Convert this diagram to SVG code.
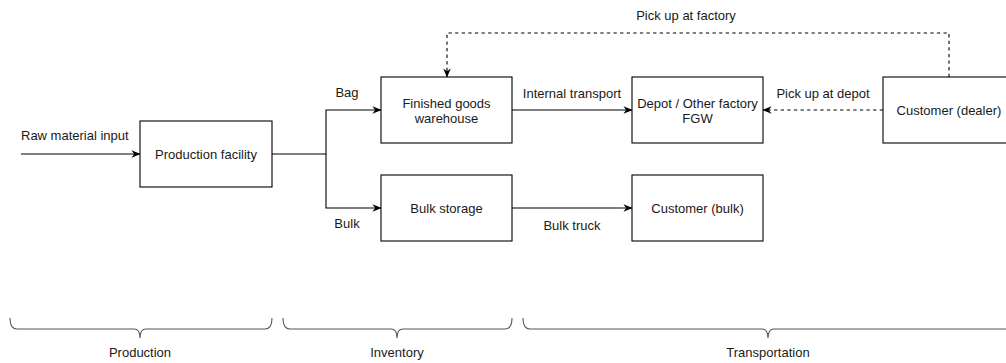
<svg xmlns="http://www.w3.org/2000/svg" width="1006" height="363" viewBox="0 0 1006 363">
<style>
.box{fill:#fff;stroke:#000;stroke-width:1.1}
.t{font-family:"Liberation Sans",Arial,sans-serif;font-size:13px;fill:#1a1a1a;text-anchor:middle}
.tl{font-family:"Liberation Sans",Arial,sans-serif;font-size:13px;fill:#1a1a1a;text-anchor:start}
.e{fill:none;stroke:#000;stroke-width:1.1}
.d{fill:none;stroke:#000;stroke-width:1.1;stroke-dasharray:3.3 3.3}
.br{fill:none;stroke:#555;stroke-width:1.1}
</style>
<defs>
<marker id="arr" viewBox="0 0 10 10" refX="9.5" refY="5" markerWidth="9" markerHeight="9" markerUnits="userSpaceOnUse" orient="auto">
<path d="M0,0.8 L10,5 L0,9.2 L3,5 z" fill="#000"/>
</marker>
</defs>
<rect width="1006" height="363" fill="#fff"/>
<g id="connectors">
<path class="e" d="M21,154 L140,154" marker-end="url(#arr)"/>
<path class="e" d="M272,154 L326,154 L326,110 L381,110" marker-end="url(#arr)"/>
<path class="e" d="M326,154 L326,208 L381,208" marker-end="url(#arr)"/>
<path class="e" d="M512,110 L632,110" marker-end="url(#arr)"/>
<path class="e" d="M512,208 L632,208" marker-end="url(#arr)"/>
<path class="d" d="M883,110 L763,110" marker-end="url(#arr)"/>
<path class="d" d="M949,77 L949,33 L447,33 L447,77" marker-end="url(#arr)"/>
<text class="tl" x="21" y="140">Raw material input</text>
<text class="t" x="347" y="97">Bag</text>
<text class="t" x="347" y="228">Bulk</text>
<text class="t" x="572" y="98">Internal transport</text>
<text class="t" x="572" y="230">Bulk truck</text>
<text class="t" x="823" y="98">Pick up at depot</text>
<text class="t" x="686" y="20">Pick up at factory</text>
</g>
<g id="production-facility">
<rect class="box" x="140" y="121" width="132" height="66"/>
<text class="t" x="206" y="158.5">Production facility</text>
</g>
<g id="finished-goods-warehouse">
<rect class="box" x="381" y="77" width="131" height="66"/>
<text class="t" x="446.5" y="107.5">Finished goods</text>
<text class="t" x="446.5" y="123">warehouse</text>
</g>
<g id="bulk-storage">
<rect class="box" x="381" y="175" width="131" height="66"/>
<text class="t" x="446.5" y="212.5">Bulk storage</text>
</g>
<g id="depot">
<rect class="box" x="632" y="77" width="131" height="66"/>
<text class="t" x="697.5" y="107.5">Depot / Other factory</text>
<text class="t" x="697.5" y="123">FGW</text>
</g>
<g id="customer-bulk">
<rect class="box" x="632" y="175" width="131" height="66"/>
<text class="t" x="697.5" y="212.5">Customer (bulk)</text>
</g>
<g id="customer-dealer">
<rect class="box" x="883" y="77" width="132" height="66"/>
<text class="t" x="949" y="114.5">Customer (dealer)</text>
</g>
<g id="brace-production">
<path class="br" d="M10,318 Q10,329 17,329 L134,329 Q140,329 140,338 Q140,329 146,329 L265,329 Q272,329 272,318"/>
<text class="t" x="140" y="357">Production</text>
</g>
<g id="brace-inventory">
<path class="br" d="M283,318 Q283,329 290,329 L391,329 Q397,329 397,338 Q397,329 403,329 L505,329 Q512,329 512,318"/>
<text class="t" x="397" y="357">Inventory</text>
</g>
<g id="brace-transportation">
<path class="br" d="M523,318 Q523,329 530,329 L762,329 Q768,329 768,338 Q768,329 774,329 L1006,329 Q1013,329 1013,318"/>
<text class="t" x="768" y="357">Transportation</text>
</g>
</svg>
